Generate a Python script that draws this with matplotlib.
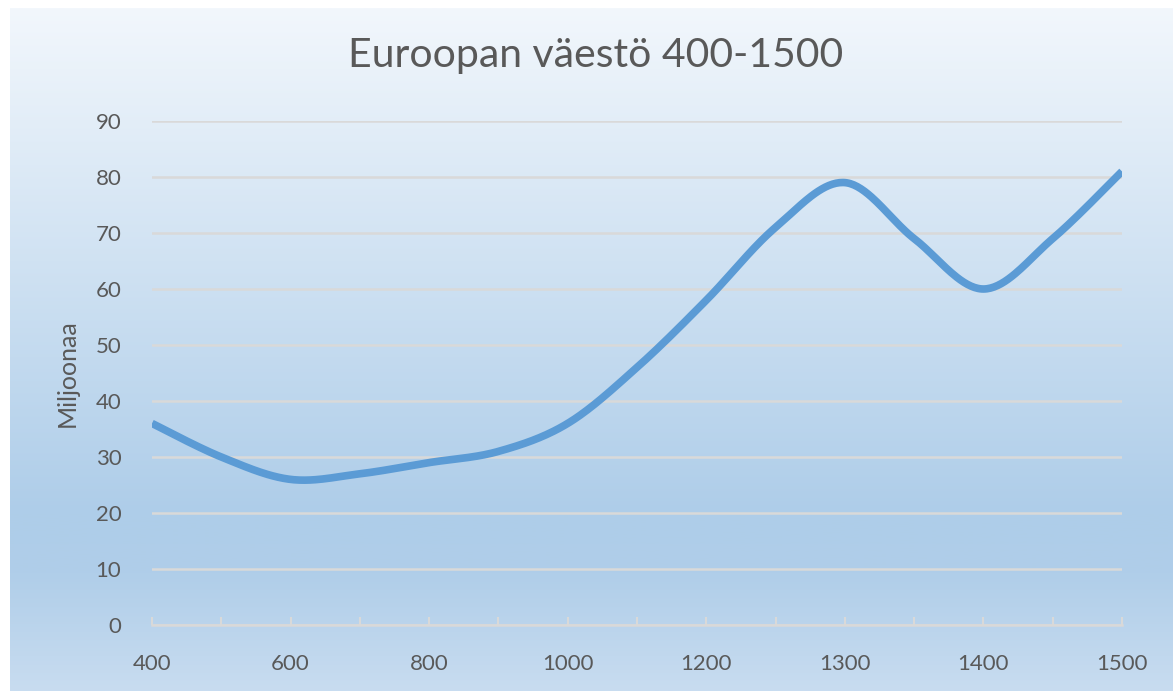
import matplotlib
matplotlib.use('Agg')
import matplotlib.pyplot as plt
from matplotlib.colors import LinearSegmentedColormap
import numpy as np

# Data
years = ['400', '500', '600', '700', '800', '900', '1000', '1100',
         '1200', '1250', '1300', '1350', '1400', '1450', '1500']
population = [36, 30, 26, 27, 29, 31, 36, 46, 58, 71, 79, 69, 60, 69, 81]
y_ticks = [0, 10, 20, 30, 40, 50, 60, 70, 80, 90]

plt.rcParams['font.family'] = ['Lato', 'DejaVu Sans']
text_grey = '#595959'
grid_grey = '#d9d9d9'
line_blue = '#5b9bd5'


def smooth_curve(vals, n=40):
    # Excel-style smoothed line (Catmull-Rom Bezier through the points)
    p = np.column_stack([np.arange(len(vals)), vals]).astype(float)
    ext = np.vstack([p[0], p, p[-1]])
    out = []
    t = np.linspace(0, 1, n)[:, None]
    for i in range(1, len(ext) - 2):
        p0, p1, p2, p3 = ext[i - 1], ext[i], ext[i + 1], ext[i + 2]
        c1 = p1 + (p2 - p0) / 6
        c2 = p2 - (p3 - p1) / 6
        seg = ((1 - t) ** 3) * p1 + 3 * ((1 - t) ** 2) * t * c1 + 3 * (1 - t) * t ** 2 * c2 + t ** 3 * p2
        out.append(seg if i == 1 else seg[1:])
    seg = np.vstack(out)
    return seg[:, 0], seg[:, 1]


W, H = 1173, 691
fig = plt.figure(figsize=(W / 100, H / 100), dpi=100)
fig.patch.set_facecolor('white')

# gradient background panel
bg = fig.add_axes([10 / W, 0, 1 - 10 / W, (H - 8) / H])
cmap = LinearSegmentedColormap.from_list('bg', [
    (0.0, '#f2f7fc'), (0.74, '#aecde9'), (0.83, '#b0cee9'), (1.0, '#c8dcf0')])
grad = np.linspace(0, 1, 256)[:, None]
bg.imshow(grad, aspect='auto', cmap=cmap, extent=[0, 1, 0, 1], origin='upper')
bg.set_axis_off()

ax = fig.add_axes([152 / W, (H - 625) / H, 970 / W, 504 / H])
ax.patch.set_alpha(0)

xs, ys = smooth_curve(population)
ax.plot(xs, ys, color=line_blue, lw=5.5, solid_capstyle='butt', zorder=3)

ax.set_xlim(0, len(years) - 1)
ax.set_ylim(0, 90)
ax.set_yticks(y_ticks)
ax.set_xticks(range(len(years)))
# every other category label, as in the original
ax.set_xticklabels([y if i % 2 == 0 else '' for i, y in enumerate(years)])

ax.grid(axis='y', color=grid_grey, lw=1.8)
ax.set_axisbelow(True)
for s in ['top', 'right', 'left']:
    ax.spines[s].set_visible(False)
ax.spines['bottom'].set_color(grid_grey)
ax.spines['bottom'].set_linewidth(1.8)

ax.tick_params(axis='y', length=0, pad=22, labelsize=16, labelcolor=text_grey)
ax.tick_params(axis='x', direction='in', length=6, width=1.5, color=grid_grey,
               pad=21, labelsize=16, labelcolor=text_grey)

ax.set_ylabel('Miljoonaa', fontsize=18, color=text_grey, labelpad=12)
fig.text(0.508, 1 - 55 / H, 'Euroopan väestö 400-1500', ha='center', va='center',
         fontsize=29.5, color=text_grey)

plt.savefig('out.png', dpi=100)
plt.close()
